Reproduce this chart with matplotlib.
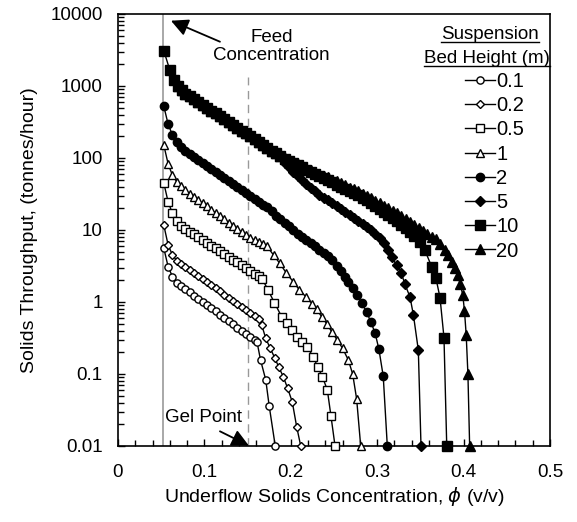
import matplotlib
matplotlib.use("Agg")
import matplotlib.pyplot as plt
from matplotlib.lines import Line2D
from matplotlib.ticker import FixedLocator, MultipleLocator, FuncFormatter, LogLocator, NullFormatter

plt.rcParams['font.family'] = ['Liberation Sans', 'DejaVu Sans']
plt.rcParams['mathtext.fontset'] = 'dejavusans'

# feed concentration and gel point (v/v)
feed_phi = 0.052
gel_phi = 0.151

# suspension bed height 0.1 m
phi_01 = [0.053, 0.058, 0.063, 0.068, 0.073, 0.078, 0.083, 0.088, 0.093, 0.098, 0.103, 0.108,
          0.113, 0.118, 0.123, 0.128, 0.133, 0.138, 0.143, 0.148, 0.153, 0.158, 0.161, 0.165,
          0.171, 0.175, 0.182]
tp_01 = [5.6, 3.1, 2.25, 1.85, 1.67, 1.51, 1.36, 1.23, 1.11, 1.00, 0.90, 0.82,
         0.74, 0.665, 0.60, 0.54, 0.49, 0.44, 0.40, 0.36, 0.325, 0.293, 0.275, 0.156,
         0.083, 0.036, 0.01]

# 0.2 m
phi_02 = [0.053, 0.058, 0.063, 0.068, 0.073, 0.078, 0.083, 0.088, 0.093, 0.098, 0.103, 0.108,
          0.113, 0.118, 0.123, 0.128, 0.133, 0.138, 0.143, 0.148, 0.153, 0.158, 0.163, 0.1663,
          0.171, 0.176, 0.1817, 0.186, 0.1913, 0.1964, 0.2017, 0.2068, 0.2115]
tp_02 = [11.7, 6.2, 4.5, 3.75, 3.35, 3.04, 2.76, 2.50, 2.27, 2.06, 1.87, 1.70,
         1.54, 1.40, 1.27, 1.15, 1.04, 0.95, 0.86, 0.78, 0.71, 0.64, 0.58, 0.48,
         0.313, 0.23, 0.165, 0.125, 0.092, 0.063, 0.041, 0.0185, 0.01]

# 0.5 m
phi_05 = [0.053, 0.058, 0.063, 0.068, 0.073, 0.078, 0.083, 0.088, 0.093, 0.098, 0.103, 0.108,
          0.113, 0.118, 0.123, 0.128, 0.133, 0.138, 0.143, 0.148, 0.153, 0.158, 0.163, 0.167,
          0.1735, 0.181, 0.1894, 0.1952, 0.2011, 0.2068, 0.2126, 0.2184, 0.226, 0.231, 0.2365,
          0.2423, 0.2465, 0.2512]
tp_05 = [45, 24.6, 17, 13.2, 11.2, 10.2, 9.5, 8.67, 7.93, 7.26, 6.64, 6.07,
         5.55, 5.08, 4.65, 4.25, 3.88, 3.55, 3.25, 2.97, 2.72, 2.48, 2.27, 2.09,
         1.48, 0.98, 0.625, 0.51, 0.41, 0.33, 0.28, 0.24, 0.174, 0.126, 0.092,
         0.06, 0.026, 0.01]

# 1 m
phi_1 = [0.053, 0.058, 0.063, 0.068, 0.073, 0.078, 0.083, 0.088, 0.093, 0.098, 0.103, 0.108,
         0.113, 0.118, 0.123, 0.128, 0.133, 0.138, 0.143, 0.148, 0.153, 0.158, 0.163, 0.168,
         0.172, 0.18, 0.187, 0.195, 0.203, 0.21, 0.2175, 0.2249, 0.23, 0.2357, 0.2415, 0.2473,
         0.2535, 0.26, 0.2666, 0.2716, 0.2762, 0.2809]
tp_1 = [151, 83, 57.5, 46.8, 40.7, 35.5, 31.9, 28.8, 26.0, 23.4, 21.2, 19.1,
        17.3, 15.6, 14.1, 12.7, 11.5, 10.4, 9.35, 8.45, 7.76, 7.24, 6.76, 6.46,
        6.03, 4.5, 3.47, 2.51, 1.9, 1.47, 1.18, 0.94, 0.79, 0.625, 0.5, 0.387,
        0.30, 0.227, 0.156, 0.1, 0.045, 0.01]

# 2 m
phi_2 = [0.053, 0.058, 0.063, 0.068, 0.073, 0.078, 0.083, 0.088, 0.093, 0.098, 0.103, 0.108,
         0.113, 0.118, 0.123, 0.128, 0.133, 0.138, 0.143, 0.148, 0.153, 0.158, 0.163, 0.168,
         0.173, 0.178, 0.183, 0.188, 0.193, 0.198, 0.203, 0.208, 0.213, 0.218, 0.223, 0.228,
         0.233, 0.238, 0.243, 0.248, 0.253, 0.258, 0.2625, 0.2666, 0.2724, 0.2763, 0.282,
         0.2878, 0.2925, 0.2975, 0.302, 0.307, 0.3117]
tp_2 = [525, 295, 209, 166, 141, 126, 113.5, 103.2, 93.8, 85.3, 77.5, 70.5,
        64.0, 58.2, 52.9, 48.1, 43.7, 39.7, 36.0, 32.7, 29.8, 27.1, 24.6, 22.4,
        20.9, 18.6, 15.8, 14.1, 12.6, 11.2, 10, 8.9, 7.9, 7.2, 6.5, 5.9,
        5.2, 4.8, 4.3, 3.8, 3.2, 2.7, 2.24, 1.91, 1.55, 1.25, 0.96,
        0.73, 0.53, 0.375, 0.22, 0.093, 0.01]

# 5, 10 and 20 m share the same curve at low concentration
phi_top = [0.053, 0.06, 0.065, 0.07, 0.074, 0.078, 0.083, 0.088, 0.093, 0.098, 0.103, 0.108,
           0.113, 0.118, 0.123, 0.128, 0.133, 0.138, 0.143, 0.148, 0.153, 0.158, 0.163, 0.168,
           0.173, 0.178, 0.183, 0.188]
tp_top = [3100, 1660, 1230, 1000, 870, 776, 716, 653, 597, 545, 498, 454,
          415, 378, 346, 315, 288, 263, 240, 219, 200, 183, 167, 152,
          139, 127, 116, 106]

phi_5_tail = [0.193, 0.198, 0.203, 0.208, 0.213, 0.218, 0.223, 0.228, 0.233, 0.238, 0.243, 0.248,
              0.253, 0.258, 0.263, 0.268, 0.273, 0.278, 0.283, 0.288, 0.293, 0.298, 0.303, 0.308,
              0.3125, 0.3168, 0.3225, 0.328, 0.332, 0.338, 0.342, 0.3476, 0.3507]
tp_5_tail = [85, 74, 64.6, 56.2, 49, 43.6, 38.9, 34.7, 30.9, 28.2, 25.7, 23.4,
             21.4, 19.5, 17.8, 16.2, 14.8, 13.5, 12.3, 11.1, 10, 8.9, 7.8, 6.6,
             5.25, 4.2, 3.24, 2.5, 1.78, 1.17, 0.65, 0.215, 0.01]

phi_10_tail = [0.193, 0.198, 0.203, 0.208, 0.213, 0.218, 0.223, 0.228, 0.233, 0.238, 0.243, 0.248,
               0.253, 0.258, 0.263, 0.268, 0.273, 0.278, 0.283, 0.288, 0.293, 0.298, 0.303, 0.308,
               0.313, 0.318, 0.323, 0.328, 0.333, 0.338, 0.343, 0.3495, 0.3553, 0.363, 0.368,
               0.3727, 0.3773, 0.3805]
tp_10_tail = [98, 91, 85, 79, 74, 69, 64.6, 60.3, 56.2, 52.5, 49, 45.7,
              42.7, 39.8, 37.2, 34.7, 32.4, 30.2, 28.2, 25.7, 23.4, 21.4, 19.5, 17.8,
              16.2, 14.8, 13.2, 11.7, 10.5, 9.3, 8.3, 6.9, 5.2, 3.1, 2.14,
              1.15, 0.32, 0.01]

phi_20_tail = [0.193, 0.198, 0.203, 0.208, 0.213, 0.218, 0.223, 0.228, 0.233, 0.238, 0.243, 0.248,
               0.253, 0.258, 0.263, 0.268, 0.273, 0.278, 0.283, 0.288, 0.293, 0.298, 0.303, 0.308,
               0.313, 0.318, 0.323, 0.328, 0.333, 0.338, 0.343, 0.348, 0.353, 0.358, 0.363, 0.368,
               0.373, 0.378, 0.382, 0.386, 0.39, 0.393, 0.396, 0.399, 0.401, 0.403, 0.405, 0.407]
tp_20_tail = [100, 93.3, 88, 82.2, 77.6, 72.4, 68.4, 64.6, 60.3, 56.9, 53.7, 50.1,
              47.3, 44.7, 41.7, 38.9, 36.7, 34.3, 32, 29.9, 27.5, 25.4, 23.4, 21.6,
              20, 18.4, 17, 15.5, 14.1, 12.9, 11.7, 10.7, 9.8, 8.9, 8.1, 7.4,
              6.3, 5.2, 4.5, 3.6, 2.95, 2.34, 1.8, 1.26, 0.76, 0.35, 0.1, 0.01]

labels = ['0.1', '0.2', '0.5', '1', '2', '5', '10', '20']

series = [
    (phi_01, tp_01, 'o', 'white', 5.2),
    (phi_02, tp_02, 'D', 'white', 4.2),
    (phi_05, tp_05, 's', 'white', 5.2),
    (phi_1, tp_1, '^', 'white', 5.8),
    (phi_2, tp_2, 'o', 'black', 6.0),
    (phi_top[3:] + phi_5_tail, tp_top[3:] + tp_5_tail, 'D', 'black', 4.8),
    (phi_top + phi_10_tail, tp_top + tp_10_tail, 's', 'black', 6.5),
    (phi_top[3:] + phi_20_tail, tp_top[3:] + tp_20_tail, '^', 'black', 7.2),
]
zorders = [3, 3, 3, 3, 3, 3, 5, 4]

fig = plt.figure(figsize=(5.77, 5.22), dpi=100)
ax = fig.add_axes([0.2045, 0.1456, 0.7487, 0.8276])

handles = []
for (x, y, m, fc, ms), lab, z in zip(series, labels, zorders):
    h, = ax.plot(x, y, color='black', lw=1, marker=m, mfc=fc, mec='black', mew=1,
                 ms=ms, clip_on=False, zorder=z, label=lab)
    handles.append(h)

ax.axvline(feed_phi, color='#999999', lw=1.2, zorder=1)
ax.plot([gel_phi, gel_phi], [0.01, 1330], color='#999999', lw=1, ls=(0, (6, 4)), zorder=1)

ax.set_yscale('log')
ax.set_xlim(0, 0.5)
ax.set_ylim(0.01, 10000)
ax.xaxis.set_major_locator(MultipleLocator(0.1))
ax.xaxis.set_minor_locator(MultipleLocator(0.02))
ax.xaxis.set_major_formatter(FuncFormatter(lambda v, p: '%g' % round(v, 3)))
ax.yaxis.set_major_locator(FixedLocator([0.01, 0.1, 1, 10, 100, 1000, 10000]))
ax.yaxis.set_minor_locator(LogLocator(base=10, subs=range(2, 10), numticks=20))
ax.yaxis.set_minor_formatter(NullFormatter())
ax.yaxis.set_major_formatter(FuncFormatter(lambda v, p: '%g' % v))
ax.tick_params(which='both', direction='in', length=5, width=1, labelsize=13.5)
ax.tick_params(axis='x', pad=13)
ax.tick_params(axis='y', pad=11)
ax.tick_params(which='minor', length=4)
for s in ax.spines.values():
    s.set_linewidth(1.2)

ax.set_xlabel(r'Underflow Solids Concentration, $\phi$ (v/v)', fontsize=14, labelpad=3)
ax.set_ylabel('Solids Throughput, (tonnes/hour)', fontsize=14, labelpad=9)

ax.annotate('', xy=(0.0613, 8070), xytext=(0.118, 4120),
            arrowprops=dict(arrowstyle='-|>', color='black', lw=1.3, mutation_scale=26,
                            shrinkA=0, shrinkB=0))
ax.text(0.178, 3500, 'Feed\nConcentration', ha='center', va='center', fontsize=13.5,
        linespacing=1.05)

ax.annotate('', xy=(0.1515, 0.0101), xytext=(0.118, 0.016),
            arrowprops=dict(arrowstyle='-|>', color='black', lw=1.3, mutation_scale=26,
                            shrinkA=0, shrinkB=0), annotation_clip=False)
ax.text(0.0995, 0.0245, 'Gel Point', ha='center', va='center', fontsize=13.5)

t1 = ax.text(0.861, 0.953, 'Suspension', transform=ax.transAxes, ha='center', va='center',
             fontsize=13.5)
t2 = ax.text(0.855, 0.896, 'Bed Height (m)', transform=ax.transAxes, ha='center', va='center',
             fontsize=13.5)

leg = ax.legend(handles=handles, loc='upper left', bbox_to_anchor=(0.803, 0.866),
                frameon=False, fontsize=14.5, handlelength=1.5, handletextpad=0.05,
                labelspacing=0.26, borderpad=0, borderaxespad=0)

# underline the legend heading
fig.canvas.draw()
r = fig.canvas.get_renderer()
inv = fig.transFigure.inverted()
for t in (t1, t2):
    bb = t.get_window_extent(r)
    (x0, y0), (x1, _) = inv.transform([(bb.x0, bb.y0 + 1), (bb.x1, bb.y0 + 1)])
    fig.add_artist(Line2D([x0, x1], [y0, y0], color='black', lw=1, transform=fig.transFigure))

fig.savefig('out.png', dpi=100)
